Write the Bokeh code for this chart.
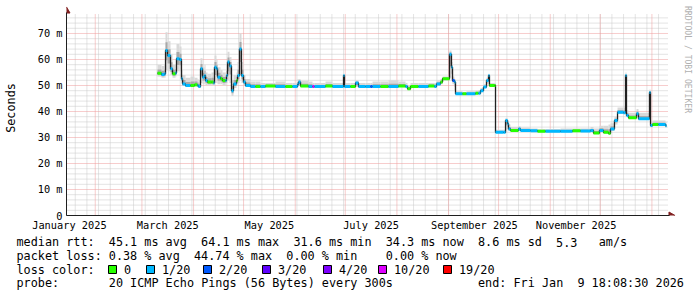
import math
import pandas as pd
from bokeh.plotting import figure
from bokeh.layouts import column
from bokeh.models import ColumnDataSource, FixedTicker, Range1d, Arrow
from bokeh.core.properties import value
from bokeh.embed import file_html
from bokeh.resources import INLINE

# ---------------- data ----------------
dates = [
    "2025-03-10 09:00", "2025-03-12 18:00", "2025-03-14 13:00", "2025-03-15 04:00", "2025-03-16 09:00",
    "2025-03-18 04:00", "2025-03-19 09:00", "2025-03-21 04:00", "2025-03-21 18:00", "2025-03-23 13:00",
    "2025-03-24 18:00", "2025-03-25 09:00", "2025-03-27 04:00", "2025-03-30 04:00", "2025-04-01 13:00",
    "2025-04-03 09:00", "2025-04-03 23:00", "2025-04-05 04:00", "2025-04-06 09:00", "2025-04-07 13:00",
    "2025-04-08 04:00", "2025-04-09 09:00", "2025-04-11 18:00", "2025-04-12 23:00", "2025-04-13 13:00",
    "2025-04-14 18:00", "2025-04-15 09:00", "2025-04-17 04:00", "2025-04-18 09:00", "2025-04-20 04:00",
    "2025-04-20 18:00", "2025-04-21 09:00", "2025-04-22 13:00", "2025-04-23 18:00", "2025-04-24 23:00",
    "2025-04-26 18:00", "2025-04-27 09:00", "2025-04-28 13:00", "2025-04-29 18:00", "2025-04-30 23:00",
    "2025-05-02 04:00", "2025-05-05 04:00", "2025-05-08 04:00", "2025-05-11 04:00", "2025-05-14 04:00",
    "2025-05-20 04:00", "2025-05-26 04:00", "2025-05-30 09:00", "2025-06-02 09:00", "2025-06-02 23:00",
    "2025-06-04 04:00", "2025-06-08 23:00", "2025-06-11 09:00", "2025-06-12 13:00", "2025-06-19 04:00",
    "2025-06-23 09:00", "2025-06-29 23:00", "2025-06-30 13:00", "2025-07-04 04:00", "2025-07-07 04:00",
    "2025-07-08 23:00", "2025-07-13 04:00", "2025-07-16 04:00", "2025-07-17 09:00", "2025-07-22 04:00",
    "2025-07-26 23:00", "2025-08-01 23:00", "2025-08-06 04:00", "2025-08-07 09:00", "2025-08-09 04:00",
    "2025-08-13 23:00", "2025-08-19 23:00", "2025-08-23 13:00", "2025-08-24 18:00", "2025-08-27 04:00",
    "2025-08-28 09:00", "2025-09-01 13:00", "2025-09-02 18:00", "2025-09-03 09:00", "2025-09-04 13:00",
    "2025-09-05 04:00", "2025-09-09 09:00", "2025-09-11 18:00", "2025-09-17 04:00", "2025-09-18 23:00",
    "2025-09-20 04:00", "2025-09-21 23:00", "2025-09-23 18:00", "2025-09-24 23:00", "2025-09-25 13:00",
    "2025-09-28 13:00", "2025-09-29 04:00", "2025-10-03 23:00", "2025-10-05 04:00", "2025-10-06 09:00",
    "2025-10-06 23:00", "2025-10-08 04:00", "2025-10-12 23:00", "2025-10-14 04:00", "2025-10-20 04:00",
    "2025-10-24 09:00", "2025-10-29 04:00", "2025-11-07 04:00", "2025-11-14 09:00", "2025-11-19 04:00",
    "2025-11-25 04:00", "2025-11-26 23:00", "2025-11-30 13:00", "2025-12-02 23:00", "2025-12-05 23:00",
    "2025-12-07 04:00", "2025-12-09 13:00", "2025-12-11 09:00", "2025-12-14 23:00", "2025-12-16 04:00",
    "2025-12-16 18:00", "2025-12-17 23:00", "2025-12-22 18:00", "2025-12-23 23:00", "2025-12-30 13:00",
    "2025-12-31 04:00", "2026-01-01 09:00", "2026-01-04 23:00", "2026-01-09 04:00",
]
series_end = "2026-01-09 18:08"

median_ms = [
    54.7, 54.2, 54.5, 63.5, 61.5, 56.4, 54.5, 54.8, 60.3, 60.0,
    52.6, 50.6, 50.0, 50.0, 50.3, 50.0, 49.6, 56.4, 53.2, 53.8,
    51.9, 51.3, 51.3, 51.0, 57.0, 56.4, 53.2, 52.6, 51.9, 51.9,
    53.8, 59.0, 57.5, 48.0, 50.6, 51.9, 53.8, 64.0, 53.8, 51.3,
    50.0, 49.6, 49.6, 49.6, 49.8, 49.6, 49.6, 49.6, 50.4, 51.3,
    49.8, 49.6, 49.6, 49.6, 49.8, 49.6, 53.8, 49.6, 49.6, 51.0,
    49.6, 49.6, 49.6, 49.6, 49.6, 49.6, 49.8, 49.6, 48.7, 49.6,
    49.6, 49.8, 49.6, 50.6, 51.3, 52.6, 62.0, 57.0, 51.9, 51.3,
    46.8, 46.8, 46.8, 47.0, 47.0, 48.0, 49.4, 51.9, 53.8, 50.0,
    50.0, 32.0, 32.0, 36.5, 35.3, 33.3, 32.7, 33.3, 32.7, 32.6,
    32.4, 32.4, 32.4, 32.6, 32.5, 32.7, 31.7, 32.7, 32.0, 31.6,
    33.3, 36.5, 39.7, 39.5, 53.8, 38.5, 37.6, 39.1, 37.2, 47.3,
    34.6, 35.0, 35.0, 34.5,
]

# index into loss_labels / loss_colors
loss_level = [
    0, 1, 1, 1, 1, 1, 0, 1, 1, 1,
    1, 1, 1, 0, 0, 1, 1, 1, 1, 1,
    1, 0, 0, 1, 1, 1, 1, 0, 0, 1,
    1, 1, 1, 1, 1, 0, 1, 1, 1, 1,
    1, 1, 0, 1, 0, 1, 0, 1, 1, 1,
    0, 1, 5, 1, 0, 1, 1, 1, 0, 1,
    1, 1, 2, 1, 0, 1, 0, 1, 0, 0,
    1, 0, 1, 1, 0, 0, 1, 1, 2, 1,
    1, 0, 1, 0, 1, 1, 1, 1, 1, 0,
    0, 1, 1, 1, 1, 1, 0, 1, 1, 1,
    0, 1, 1, 0, 1, 1, 0, 1, 0, 0,
    1, 1, 1, 1, 1, 1, 0, 1, 1, 1,
    1, 0, 1, 1,
]

smoke_lo = [
    53.5, 53.0, 53.0, 56.0, 55.5, 54.0, 53.0, 53.5, 55.5, 55.5,
    51.0, 49.8, 49.5, 49.5, 49.5, 49.3, 49.0, 51.0, 50.5, 50.5,
    50.0, 50.0, 50.0, 50.0, 51.0, 51.0, 50.5, 50.5, 50.0, 50.0,
    51.0, 52.0, 51.0, 46.0, 49.0, 50.0, 51.0, 54.0, 51.0, 50.0,
    49.5, 49.2, 49.2, 49.2, 49.3, 49.2, 49.2, 49.2, 49.5, 49.8,
    49.3, 49.2, 49.2, 49.2, 49.3, 49.2, 49.5, 49.2, 49.2, 49.5,
    49.2, 49.2, 49.2, 49.2, 49.2, 49.2, 49.3, 49.2, 48.3, 49.2,
    49.2, 49.3, 49.2, 49.8, 50.5, 52.0, 53.0, 52.0, 50.5, 48.0,
    46.5, 46.5, 46.5, 46.6, 46.6, 47.5, 49.0, 50.5, 50.5, 49.5,
    49.5, 31.8, 31.8, 33.0, 33.0, 32.5, 32.3, 32.5, 32.3, 32.2,
    32.0, 32.0, 32.0, 32.2, 32.1, 32.2, 31.3, 32.0, 31.5, 31.0,
    32.5, 35.0, 39.0, 39.0, 40.0, 38.0, 37.2, 38.0, 36.8, 37.0,
    34.3, 34.6, 34.6, 34.2,
]

smoke_hi = [
    58.0, 57.5, 58.0, 70.5, 67.0, 62.0, 58.0, 58.0, 66.0, 65.0,
    56.0, 54.0, 53.0, 53.5, 53.0, 52.5, 52.0, 60.5, 57.0, 58.0,
    55.0, 54.5, 55.0, 55.0, 61.5, 60.0, 57.0, 56.0, 55.0, 55.0,
    58.0, 63.0, 61.0, 52.0, 54.0, 55.0, 59.0, 70.0, 59.0, 54.0,
    52.5, 51.5, 51.5, 51.0, 51.0, 51.5, 51.0, 51.0, 52.5, 52.5,
    51.8, 51.5, 51.0, 51.0, 51.5, 51.0, 54.5, 51.0, 51.0, 52.0,
    51.0, 51.0, 51.0, 51.5, 51.5, 52.0, 51.5, 51.0, 50.0, 51.0,
    51.0, 51.0, 51.0, 52.0, 52.5, 53.5, 63.5, 59.0, 53.5, 52.5,
    47.8, 47.5, 47.8, 48.0, 48.3, 49.0, 50.5, 53.0, 54.5, 51.0,
    51.0, 33.0, 33.0, 37.5, 36.5, 35.0, 34.0, 34.3, 33.8, 33.5,
    33.3, 33.3, 33.5, 33.5, 33.5, 34.0, 33.5, 34.5, 34.5, 35.0,
    35.5, 38.0, 41.5, 41.5, 55.0, 40.5, 39.5, 41.0, 39.5, 48.5,
    36.0, 36.5, 36.5, 36.0,
]

loss_labels = ["0", "1/20", "2/20", "3/20", "4/20", "10/20", "19/20"]
loss_colors = ["#26ff00", "#00b8ff", "#0059ff", "#5e00ff", "#7e00ff", "#dd00ff", "#ff0000"]

y_ticks = [0, 10, 20, 30, 40, 50, 60, 70]
y_tick_labels = ["0", "10 m", "20 m", "30 m", "40 m", "50 m", "60 m", "70 m"]
x_label_dates = ["2025-01-16 12:00", "2025-03-16 12:00", "2025-05-16 12:00",
                 "2025-07-16 12:00", "2025-09-16 12:00", "2025-11-16 12:00"]
x_tick_labels = ["January 2025", "March 2025", "May 2025", "July 2025",
                 "September 2025", "November 2025"]

stats_rtt = ["median rtt:", "45.1 ms avg", "64.1 ms max", "31.6 ms min", "34.3 ms now",
             "8.6 ms sd", "5.3", "am/s"]
stats_loss = ["packet loss:", "0.38 % avg", "44.74 % max", "0.00 % min", "0.00 % now"]
probe_text = ["probe:", "20 ICMP Echo Pings (56 Bytes) every 300s", "end: Fri Jan", "9 18:08:30 2026"]
watermark = "RRDTOOL / TOBI OETIKER"

range_start = "2025-01-14 18:08:30"
range_end = "2026-01-09 18:08:30"
y_max = 77.3

# ---------------- layout constants (canvas px) ----------------
W, H = 697, 297
GL, GR, GT, GB = 66, 666, 14, 215      # rrdtool graph area
TOP_H = 236                            # height of the chart figure
MONO = "DejaVu Sans Mono"
AXIS_C = "#1f1f1f"
ARROW_C = "#801f1f"


def ms(s):
    return pd.Timestamp(s).value / 1e6


x0, x1 = ms(range_start), ms(range_end)
px_x = (x1 - x0) / (GR - GL)
px_y = y_max / (GB - GT)


def cx2d(cx):
    return x0 + (cx - GL) * px_x


def cy2d(cy):
    return (GB - cy) * px_y


# frame of the chart figure spans canvas x 66..697, y 0..215
p = figure(width=W, height=TOP_H, x_axis_type="datetime",
           x_range=Range1d(x0, cx2d(W)), y_range=Range1d(0, cy2d(0)),
           output_backend="svg", toolbar_location=None,
           min_border_left=GL, min_border_right=0, min_border_top=0,
           min_border_bottom=TOP_H - GB,
           background_fill_color="white", border_fill_color="white",
           outline_line_color=None)
p.xgrid.visible = False
p.ygrid.visible = False

# axes
p.xaxis.ticker = FixedTicker(ticks=[ms(d) for d in x_label_dates])
p.xaxis.major_label_overrides = {ms(d): t for d, t in zip(x_label_dates, x_tick_labels)}
p.yaxis.ticker = FixedTicker(ticks=y_ticks)
p.yaxis.major_label_overrides = {v: t for v, t in zip(y_ticks, y_tick_labels)}
for ax in (p.xaxis, p.yaxis):
    ax.axis_line_color = AXIS_C
    ax.axis_line_width = 1
    ax.major_tick_line_color = None
    ax.minor_tick_line_color = None
    ax.major_tick_out = 0
    ax.major_tick_in = 0
    ax.minor_tick_out = 0
    ax.minor_tick_in = 0
    ax.major_label_text_font = MONO
    ax.major_label_text_font_size = "10.3px"
    ax.major_label_text_color = "#000000"
p.xaxis.bounds = (x0, cx2d(669))
p.yaxis.bounds = (0, cy2d(12))
p.xaxis.major_label_standoff = 3
p.yaxis.major_label_standoff = 4
p.yaxis.axis_label = "Seconds"
p.yaxis.axis_label_text_font = MONO
p.yaxis.axis_label_text_font_size = "11.8px"
p.yaxis.axis_label_text_font_style = "normal"
p.yaxis.axis_label_text_color = "#000000"
p.yaxis.axis_label_standoff = 17

# grid (dotted, limited to the graph area)
month_starts = [ms(d) for d in pd.date_range("2025-02-01", "2026-01-01", freq="MS")]
mondays = [ms(d) for d in pd.date_range("2025-01-20", "2026-01-09", freq="W-MON")]
minor_y = [v for v in range(2, 78, 2) if v % 10]
major_y = [v for v in y_ticks if v > 0]
gx_end = cx2d(668)
p.segment(x0=mondays, y0=[0] * len(mondays), x1=mondays, y1=[y_max] * len(mondays),
          line_color="#c8c8c8", line_dash="1 1", line_width=1)
p.segment(x0=[x0] * len(minor_y), y0=minor_y, x1=[gx_end] * len(minor_y), y1=minor_y,
          line_color="#c8c8c8", line_dash="1 1", line_width=1)
p.segment(x0=month_starts, y0=[0] * len(month_starts), x1=month_starts,
          y1=[y_max] * len(month_starts), line_color="#ee9a9a", line_dash="1 1", line_width=1)
p.segment(x0=[x0] * len(major_y), y0=major_y, x1=[gx_end] * len(major_y), y1=major_y,
          line_color="#ee9a9a", line_dash="1 1", line_width=1)

# ---------------- data marks ----------------
starts = [pd.Timestamp(d) for d in dates]
ends = starts[1:] + [pd.Timestamp(series_end)]
src = ColumnDataSource(dict(
    left=starts, right=ends, med=median_ms, lo=smoke_lo, hi=smoke_hi,
    lo_in=[m - (m - l) * 0.5 for m, l in zip(median_ms, smoke_lo)],
    hi_in=[m + (h - m) * 0.45 for m, h in zip(median_ms, smoke_hi)],
    color=[loss_colors[i] for i in loss_level],
))
p.quad(left="left", right="right", bottom="lo", top="hi", source=src,
       fill_color="#d9d9d9", line_color=None)
p.quad(left="left", right="right", bottom="lo_in", top="hi_in", source=src,
       fill_color="#a8a8a8", line_color=None)
p.step(x=starts + [pd.Timestamp(series_end)], y=median_ms + [median_ms[-1]], mode="after",
       line_color="#202020", line_width=1.3)
p.segment(x0="left", y0="med", x1="right", y1="med", source=src,
          line_color="color", line_width=3, line_cap="butt")

# arrow heads of the axes
p.scatter(x=[x0], y=[cy2d(10.5)], marker="triangle", size=7,
          fill_color=ARROW_C, line_color=ARROW_C)
p.scatter(x=[cx2d(670.5)], y=[0], marker="triangle", size=7, angle=-math.pi / 2,
          fill_color=ARROW_C, line_color=ARROW_C)
# short axis stubs below / left of the origin
p.add_layout(Arrow(x_start=cx2d(GL - 4), y_start=0, x_end=x0, y_end=0,
                   line_color=AXIS_C, line_width=1, end=None))
p.add_layout(Arrow(x_start=x0, y_start=cy2d(GB + 4), x_end=x0, y_end=0,
                   line_color=AXIS_C, line_width=1, end=None))

# watermark
p.text(x=[cx2d(687.5)], y=[cy2d(59)], text=[watermark], angle=-math.pi / 2,
       text_align="center", text_baseline="middle", text_font=value(MONO),
       text_font_size="8.1px", text_color="#b0b0b0")

# ---------------- legend strip (canvas px coordinates) ----------------
LH = H - TOP_H
q = figure(width=W, height=LH, x_range=Range1d(0, W), y_range=Range1d(H, TOP_H),
           output_backend="svg", toolbar_location=None,
           min_border_left=0, min_border_right=0, min_border_top=0, min_border_bottom=0,
           background_fill_color="white", border_fill_color="white",
           outline_line_color=None, x_axis_location=None, y_axis_location=None)
q.xgrid.visible = False
q.ygrid.visible = False

# keep each figure's frame where it is (no cross-figure frame alignment)
for fig in (p, q):
    if "frame_align" in fig.properties():
        fig.frame_align = False

CH = 7.1          # character advance of the legend font
LX = 16           # legend left edge
tx, ty, tt = [], [], []
for tok, idx in zip(stats_rtt, [0, 13, 26, 39, 52, 65, 76, 82]):
    tx.append(LX + idx * CH); ty.append(241.7); tt.append(tok)
for tok, idx in zip(stats_loss, [0, 13, 25, 38, 52]):
    tx.append(LX + idx * CH); ty.append(255.2); tt.append(tok)
tx.append(LX); ty.append(269.3); tt.append("loss color:")
box_x = [108, 146, 203, 262, 323, 378, 443]
for bx, lab in zip(box_x, loss_labels):
    tx.append(bx + 15.5); ty.append(269.3); tt.append(lab)
for tok, idx in zip(probe_text, [0, 13, 65, 79]):
    tx.append(LX + idx * CH); ty.append(282.7); tt.append(tok)

q.quad(left=box_x, right=[b + 8 for b in box_x], top=[265] * len(box_x),
       bottom=[273] * len(box_x), fill_color=loss_colors, line_color="#000000", line_width=1)
q.text(x=tx, y=ty, text=tt, text_font=value(MONO), text_font_size="11.8px",
       text_baseline="middle", text_align="left", text_color="#000000")

layout = column(p, q, spacing=0)
open("out.html", "w").write(file_html(layout, INLINE))
